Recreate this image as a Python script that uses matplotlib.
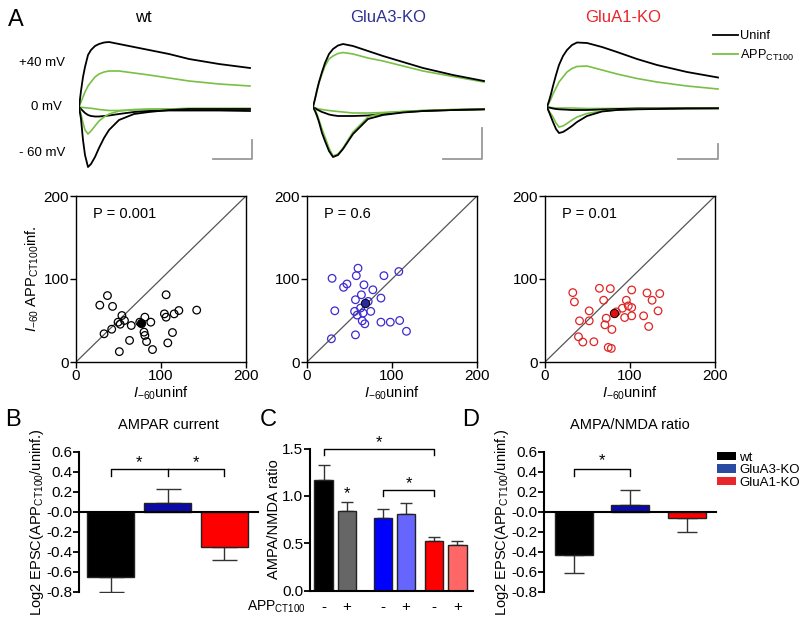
import numpy as np
import matplotlib
matplotlib.use('Agg')
import matplotlib.pyplot as plt
from matplotlib.patches import Patch
from matplotlib.lines import Line2D

plt.rcParams['font.family'] = ['Liberation Sans', 'DejaVu Sans']
plt.rcParams['mathtext.fontset'] = 'custom'
plt.rcParams['mathtext.rm'] = 'Liberation Sans'
plt.rcParams['mathtext.it'] = 'Liberation Sans:italic'
plt.rcParams['axes.unicode_minus'] = False

# ---- panel A traces (time in a.u., amplitude in a.u.)
t = [0, 2, 4, 6, 9, 12, 16, 20, 25, 30, 40, 55, 70, 90, 110, 140, 171]

wt_bk_p40 = [0, 16, 30, 40, 52, 57, 61, 63, 64.5, 65, 63, 60, 57, 53, 48, 43, 39]
wt_gr_p40 = [0, 5, 10, 15, 21, 25, 30, 33, 35, 36, 36, 34, 32, 29, 26, 23, 21]
wt_bk_0 = [0, -2, -4, -6, -8, -9, -9.5, -9.5, -9, -8.5, -7, -5, -4, -3.5, -3.5, -3.5, -4]
wt_gr_0 = [0, -0.3, -0.5, -0.7, -1, -1.3, -1.8, -2.5, -3, -3.5, -3.5, -3, -2.5, -2, -1.5, -1.5, -1.5]
wt_bk_m60 = [0, -12, -33, -48, -60, -57, -50, -41, -31, -23, -13, -7, -5, -3, -2, -2, -2]
wt_gr_m60 = [0, -7, -16, -23, -27, -24, -19, -14, -10, -7, -4, -2.5, -2, -2, -1.5, -1.5, -1.5]

a3_bk_p40 = [0, 8, 17, 25, 35, 44, 53, 58, 61.5, 63, 61, 56, 51, 45, 39, 32, 26]
a3_gr_p40 = [0, 8, 16, 24, 33, 41, 48, 51, 53.5, 54.5, 53, 49, 46, 41, 36, 30.5, 25]
a3_bk_0 = [0, -1.2, -2.5, -3.5, -5, -6, -7.5, -8.3, -9, -9, -9, -8.5, -7, -5, -4, -3, -2.3]
a3_gr_0 = [0, -0.7, -1.5, -2, -2.5, -3, -3.5, -4, -4.5, -5, -6, -6, -5.5, -4.5, -3.5, -2.7, -2.3]
a3_bk_m60 = [0, -4, -9, -15, -26, -34, -44, -50, -48, -42, -27, -12, -8, -5.5, -4, -3, -2.3]
a3_gr_m60 = [0, -3, -7, -13, -22, -30, -41, -49, -47, -41, -25, -10, -6, -4.5, -3.5, -2.5, -2]

a1_bk_p40 = [0, 6, 13, 21, 32, 42, 51, 57, 62, 64.5, 64, 60, 55, 48, 42, 35, 29.5]
a1_gr_p40 = [0, 4, 8, 13, 19, 25, 30, 35, 38.5, 40.5, 41, 37, 33, 28.5, 25, 21, 18]
a1_bk_0 = [0, -0.5, -1, -1.5, -2, -2.3, -2.5, -2.7, -3, -3, -3, -2.5, -2, -1.5, -1.5, -1.3, -1.3]
a1_gr_0 = [0, -0.3, -0.5, -0.7, -1, -1, -1, -1, -1, -1.2, -1.5, -1.5, -1.5, -1.3, -1.3, -1.3, -1.3]
a1_bk_m60 = [0, -5, -10, -15, -22, -26, -25, -22.5, -19, -15, -9, -4.5, -3, -2.3, -2, -1.5, -1.3]
a1_gr_m60 = [0, -4, -7, -10, -16, -20, -19, -16.5, -13, -10, -6.5, -4, -3, -2.3, -2, -1.5, -1.3]

# scale bars: x start, x end, top of vertical bar
scale_x0 = [134, 130, 131]
scale_x1 = [173, 169, 171]
scale_top = [-33, -21, -37]

# ---- scatter data (I-60 uninf, I-60 APP inf)
wt_x = [28, 37, 43, 106, 54, 49.5, 52, 57, 33, 42, 65, 81, 75, 88, 63, 51, 80, 81, 83, 90,
        104, 106, 115.5, 121, 142, 113.5, 108]
wt_y = [68.5, 80, 67, 81, 56, 48, 45.5, 50, 34, 39.5, 44, 54, 48, 48, 26, 12.5, 36, 32, 24.6, 15,
        58, 54, 58, 62, 62.5, 35.5, 23]
wt_mean = (76.6, 46.8)

a3_x = [29.5, 60, 58, 47, 43, 67, 64, 77.5, 90.5, 108, 87, 57, 72, 32.7, 56, 59, 66, 75, 65, 68,
        87, 98, 109, 117, 57, 28.7, 63]
a3_y = [100.8, 113, 104, 94, 90, 93, 81, 87, 104, 109, 77, 75, 73, 61.7, 61, 56.5, 59, 61, 49.6, 46,
        48, 48, 50, 37, 32.7, 28, 65]
a3_mean = (68, 70.6)

a1_x = [32.7, 34.6, 64, 76.8, 69, 102, 120, 126, 135, 95.7, 91, 98, 102, 52, 84, 133, 40.6, 52, 72,
        70.5, 78.7, 93.7, 102, 116, 122, 39.4, 44.5, 57.5, 74.4, 78]
a1_y = [83.6, 72.4, 88.8, 88.4, 74.4, 86.8, 83.2, 74.4, 82.4, 74.4, 64.8, 67.6, 65.6, 61.6, 60.4, 61.6,
        49.6, 49.6, 52.8, 44.8, 39.2, 53.6, 55.6, 55.6, 42.8, 30.4, 24, 24.4, 17.6, 16.4]
a1_mean = (81.5, 59.6)

p_values = ['P = 0.001', 'P = 0.6', 'P = 0.01']

# ---- bar data
b_vals = [-0.65, 0.083, -0.35]
b_err = [0.15, 0.147, 0.13]
c_vals = [1.17, 0.84, 0.77, 0.81, 0.52, 0.48]
c_err = [0.16, 0.10, 0.09, 0.11, 0.05, 0.04]
c_pos = [0, 1, 2.55, 3.55, 4.75, 5.75]
c_signs = ['-', '+', '-', '+', '-', '+']
d_vals = [-0.43, 0.07, -0.06]
d_err = [0.18, 0.15, 0.14]

groups = ['wt', 'GluA3-KO', 'GluA1-KO']
title_colors = ['black', '#2e3192', '#e8262c']
bk = 'black'
gr = '#78c044'

W, H = 800, 620
fig = plt.figure(figsize=(8, 6.2), dpi=100)


def rect(x0, y0, x1, y1):
    return [x0 / W, 1 - y1 / H, (x1 - x0) / W, (y1 - y0) / H]


def ftext(x, y, s, **kw):
    fig.text(x / W, 1 - y / H, s, **kw)


# ---------------- A: traces
traces = [
    (wt_bk_p40, wt_gr_p40, wt_bk_0, wt_gr_0, wt_bk_m60, wt_gr_m60),
    (a3_bk_p40, a3_gr_p40, a3_bk_0, a3_gr_0, a3_bk_m60, a3_gr_m60),
    (a1_bk_p40, a1_gr_p40, a1_bk_0, a1_gr_0, a1_bk_m60, a1_gr_m60),
]
starts = [79, 313, 547]
for i, tr in enumerate(traces):
    ax = fig.add_axes(rect(starts[i], 30, starts[i] + 176, 170))
    bp, gp, b0, g0, bm, gm = tr
    ax.plot(t, gp, color=gr, lw=1.2)
    ax.plot(t, bp, color=bk, lw=1.3)
    ax.plot(t, g0, color=gr, lw=1.2)
    ax.plot(t, b0, color=bk, lw=1.3)
    ax.plot(t, gm, color=gr, lw=1.2)
    ax.plot(t, bm, color=bk, lw=1.3)
    ax.plot([scale_x0[i], scale_x1[i], scale_x1[i]], [-52, -52, scale_top[i]],
            color='#999999', lw=1.3)
    ax.set_xlim(0, 176)
    ax.set_ylim(-63, 77)
    ax.axis('off')

ftext(8, 20, 'A', fontsize=17, va='center')
ftext(143, 17, groups[0], fontsize=12, ha='center', va='center', color=title_colors[0])
ftext(388, 17, groups[1], fontsize=12, ha='center', va='center', color=title_colors[1])
ftext(623, 17, groups[2], fontsize=12, ha='center', va='center', color=title_colors[2])
ftext(65, 63, '+40 mV', fontsize=9.5, ha='right', va='center')
ftext(62, 107, '0 mV', fontsize=9.5, ha='right', va='center')
ftext(65, 153, '- 60 mV', fontsize=9.5, ha='right', va='center')

leg_handles = [Line2D([], [], color=bk, lw=1.3), Line2D([], [], color=gr, lw=1.3)]
fig.legend(leg_handles, ['Uninf', 'APP$_{\\rm CT100}$'], loc='upper left',
           bbox_to_anchor=(707 / W, 1 - 24 / H), frameon=False, fontsize=9.2,
           handlelength=1.9, handletextpad=0.15, labelspacing=0.4, borderpad=0)

# ---------------- A: scatter plots
sc_left = [76, 307, 545]
sc_data = [(wt_x, wt_y, wt_mean, 'black', 'black'),
           (a3_x, a3_y, a3_mean, '#3d2bd1', '#2a2aa0'),
           (a1_x, a1_y, a1_mean, '#e02424', '#e01010')]
for i, (xs, ys, mn, ec, fc) in enumerate(sc_data):
    ax = fig.add_axes(rect(sc_left[i], 196, sc_left[i] + 170, 362))
    ax.plot([0, 200], [0, 200], color='#555555', lw=0.9)
    ax.scatter(xs, ys, s=30, facecolors='none', edgecolors=ec, linewidths=0.9, zorder=3)
    ax.scatter([mn[0]], [mn[1]], s=36, facecolors=fc, edgecolors='black',
               linewidths=0.7, zorder=4)
    ax.set_xlim(0, 200)
    ax.set_ylim(0, 200)
    ax.set_xticks([0, 100, 200])
    ax.set_yticks([0, 100, 200])
    ax.tick_params(direction='out', length=4, width=1, labelsize=11, pad=1)
    for sp in ax.spines.values():
        sp.set_linewidth(1)
    ax.text(20, 178, p_values[i], fontsize=10.5, va='center')
    ax.set_xlabel('$\\mathit{I}_{-60}$uninf', fontsize=10.5, labelpad=1)
    if i == 0:
        ax.set_ylabel('$\\mathit{I}_{-60}$ APP$_{\\rm CT100}$inf.', fontsize=10.5, labelpad=2)


def bracket(ax, x0, x1, y, drop, mid=None):
    xs = [x0, x0, x1, x1]
    ys = [y - drop, y, y, y - drop]
    ax.plot(xs, ys, color='black', lw=1, clip_on=False)
    if mid is not None:
        ax.plot([mid, mid], [y, y - drop], color='black', lw=1, clip_on=False)


def one_sided(vals, errs):
    lo = [e if v < 0 else 0 for v, e in zip(vals, errs)]
    hi = [e if v >= 0 else 0 for v, e in zip(vals, errs)]
    return [lo, hi]


def log_axis(ax):
    ax.set_ylim(-0.8, 0.6)
    ax.set_yticks(np.arange(-0.8, 0.61, 0.2))
    ax.set_yticklabels(['%.1f' % v for v in np.arange(-0.8, 0.61, 0.2)])
    ax.spines['top'].set_visible(False)
    ax.spines['right'].set_visible(False)
    ax.spines['bottom'].set_position(('data', 0))
    ax.spines['left'].set_linewidth(1.5)
    ax.spines['bottom'].set_linewidth(1.5)
    ax.set_xticks([])
    ax.tick_params(axis='y', direction='out', length=4, width=1.3, labelsize=11, pad=1)
    ax.set_ylabel('Log2 EPSC(APP$_{\\rm CT100}$/uninf.)', fontsize=10.5, labelpad=0)


# ---------------- B
ax_b = fig.add_axes(rect(79, 451.7, 258, 591.7))
b_cols = ['black', '#0a0aa8', '#ff0000']
ax_b.bar([0, 1, 2], b_vals, width=0.82, color=b_cols, edgecolor='#222222', lw=1, zorder=2)
ax_b.errorbar([0, 1, 2], b_vals, yerr=one_sided(b_vals, b_err), fmt='none',
              ecolor='#333333', elinewidth=1, capsize=9, capthick=1, zorder=1)
ax_b.set_xlim(-0.553, 2.588)
log_axis(ax_b)
ax_b.set_title('AMPAR current', fontsize=10.5, pad=16)
bracket(ax_b, 0, 2, 0.43, 0.07, mid=1)
ax_b.text(0.5, 0.49, '*', ha='center', va='center', fontsize=12)
ax_b.text(1.5, 0.49, '*', ha='center', va='center', fontsize=12)

# ---------------- C
ax_c = fig.add_axes(rect(310, 448.5, 473, 590.5))
c_cols = ['black', '#666666', '#0000ff', '#6666ff', '#ff0000', '#ff6666']
ax_c.bar(c_pos, c_vals, width=0.79, color=c_cols, edgecolor='#222222', lw=1, zorder=2)
ax_c.errorbar(c_pos, c_vals, yerr=[[0] * 6, c_err], fmt='none', ecolor='#333333',
              elinewidth=1, capsize=4, capthick=1, zorder=1)
ax_c.set_xlim(-0.58, 6.42)
ax_c.set_ylim(0, 1.5)
ax_c.set_yticks([0, 0.5, 1.0, 1.5])
ax_c.set_yticklabels(['0.0', '0.5', '1.0', '1.5'])
ax_c.spines['top'].set_visible(False)
ax_c.spines['right'].set_visible(False)
ax_c.spines['left'].set_linewidth(1.5)
ax_c.spines['bottom'].set_linewidth(1.5)
ax_c.set_xticks(c_pos)
ax_c.set_xticklabels(c_signs, fontsize=11)
ax_c.tick_params(axis='x', length=0, pad=7)
ax_c.tick_params(axis='y', direction='out', length=4, width=1.3, labelsize=11, pad=1)
ax_c.set_ylabel('AMPA/NMDA ratio', fontsize=10.5, labelpad=1)
ax_c.text(-0.75, -0.17, 'APP$_{\\rm CT100}$', ha='right', va='center', fontsize=10,
          transform=ax_c.transData, clip_on=False)
bracket(ax_c, c_pos[0], c_pos[4], 1.49, 0.06)
ax_c.text((c_pos[0] + c_pos[4]) / 2, 1.56, '*', ha='center', va='center', fontsize=12)
bracket(ax_c, c_pos[2], c_pos[4], 1.06, 0.06)
ax_c.text((c_pos[2] + c_pos[4]) / 2, 1.13, '*', ha='center', va='center', fontsize=12)
ax_c.text(c_pos[1], 1.02, '*', ha='center', va='center', fontsize=12)

# ---------------- D
ax_d = fig.add_axes(rect(544, 451.7, 716, 591.7))
ax_d.bar([0, 1, 2], d_vals, width=0.675, color=b_cols, edgecolor='#222222', lw=1, zorder=2)
ax_d.errorbar([0, 1, 2], d_vals, yerr=one_sided(d_vals, d_err), fmt='none',
              ecolor='#333333', elinewidth=1, capsize=7, capthick=1, zorder=1)
ax_d.set_xlim(-0.533, 2.52)
log_axis(ax_d)
ax_d.set_title('AMPA/NMDA ratio', fontsize=10.5, pad=16)
bracket(ax_d, 0, 1, 0.43, 0.07)
ax_d.text(0.5, 0.51, '*', ha='center', va='center', fontsize=12)

leg_cols = ['black', '#2b4ba3', '#e8262c']
patches = [Patch(facecolor=c, edgecolor='none') for c in leg_cols]
fig.legend(patches, groups, loc='upper left', bbox_to_anchor=(710 / W, 1 - 445 / H),
           frameon=False, fontsize=9.5, handlelength=1.5, handleheight=0.6,
           handletextpad=0.2, labelspacing=0.05, borderpad=0)

ftext(5, 420, 'B', fontsize=17, va='center')
ftext(260, 420, 'C', fontsize=17, va='center')
ftext(462, 420, 'D', fontsize=17, va='center')

fig.savefig('out.png', dpi=100)
